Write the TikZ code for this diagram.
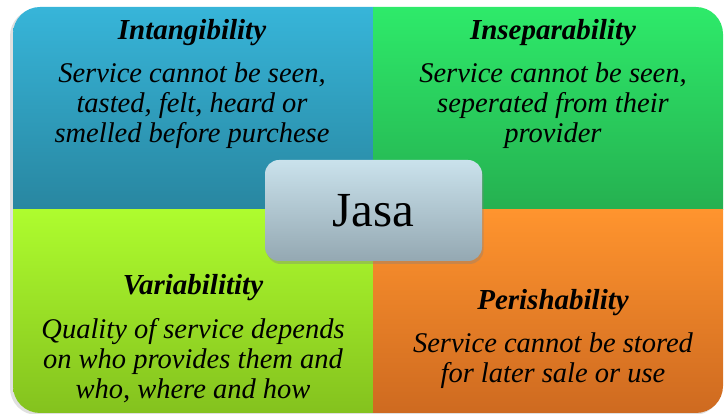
\documentclass[tikz,border=0pt]{standalone}
\usepackage{fontspec}
\setmainfont{Liberation Serif}
\usetikzlibrary{positioning,shadows}

\definecolor{tlTop}{RGB}{55,181,217}
\definecolor{tlBot}{RGB}{40,134,160}
\definecolor{trTop}{RGB}{46,234,106}
\definecolor{trBot}{RGB}{37,176,80}
\definecolor{blTop}{RGB}{174,252,46}
\definecolor{blBot}{RGB}{132,194,30}
\definecolor{brTop}{RGB}{255,148,46}
\definecolor{brBot}{RGB}{206,106,32}
\definecolor{coreTop}{RGB}{202,226,236}
\definecolor{coreBot}{RGB}{148,168,178}

\begin{document}
\begin{tikzpicture}[x=1pt,y=1pt,
	ttl/.style={font=\fontsize{29}{30}\selectfont\bfseries\itshape,anchor=base,inner sep=0},
	txt/.style={font=\fontsize{28.5}{30}\selectfont\itshape,align=center,inner sep=0},
	core/.style={rounded corners=14pt,minimum width=217pt,minimum height=101pt,
		top color=coreTop,bottom color=coreBot,inner sep=0,
		font=\fontsize{49}{50}\selectfont,
		drop shadow={opacity=0.35,shadow xshift=1.5pt,shadow yshift=-3pt}}]
	\useasboundingbox (0,0) rectangle (725,414);
	% soft shadow under the panel
	\fill[rounded corners=27pt,black,opacity=0.12] (10,-1) rectangle (721,405);
	% four quarters, clipped to one rounded panel
	\begin{scope}
	\clip[rounded corners=27pt] (13,1) rectangle (723,407);
	\shade[top color=tlTop,bottom color=tlBot] (13,204) rectangle (373,407);
	\shade[top color=trTop,bottom color=trBot] (373,204) rectangle (723,407);
	\shade[top color=blTop,bottom color=blBot] (13,1) rectangle (373,204);
	\shade[top color=brTop,bottom color=brBot] (373,1) rectangle (723,204);
	\end{scope}
	% labels
	\node[ttl] (intang) at (192,374) {Intangibility};
	\node[txt,below=23pt of intang.base] (intangTxt)
		{Service cannot be seen,\\tasted, felt, heard or\\smelled before purchese};
	\node[ttl] (insep) at (553,374) {Inseparability};
	\node[txt,below=23pt of insep.base] (insepTxt)
		{Service cannot be seen,\\seperated from their\\provider};
	\node[ttl] (varia) at (193,119) {Variabilitity};
	\node[txt,below=23pt of varia.base] (variaTxt)
		{Quality of service depends\\on who provides them and\\who, where and how};
	\node[ttl] (perish) at (553,104) {Perishability};
	\node[txt,below=23pt of perish.base] (perishTxt)
		{Service cannot be stored\\for later sale or use};
	% centre box
	\node[core] (jasa) at (373.5,203.5) {Jasa};
\end{tikzpicture}
\end{document}
